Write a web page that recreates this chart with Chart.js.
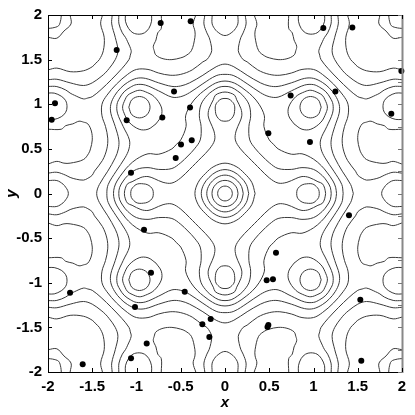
<!DOCTYPE html>
<html><head><meta charset="utf-8">
<style>html,body{margin:0;padding:0;background:#fff}#wrap{width:415px;height:415px}</style>
<script src="https://cdn.jsdelivr.net/npm/chart.js@4.4.1/dist/chart.umd.min.js"></script>
</head><body><div id="wrap"><canvas id="c" width="415" height="415"></canvas></div>
<script>
// ---- axis ticks ----
const xTicks = [-2,-1.5,-1,-0.5,0,0.5,1,1.5,2];
const xTickLabels = ['-2','-1.5','-1','-0.5','0','0.5','1','1.5','2'];
const yTicks = [-2,-1.5,-1,-0.5,0,0.5,1,1.5,2];
const yTickLabels = ['-2','-1.5','-1','-0.5','0','0.5','1','1.5','2'];
const yRightTicks = [-2,-1.75,-1.5,-1.25,-1,-0.75,-0.5,-0.25,0,0.25,0.5,0.75,1,1.25,1.5,1.75,2];

// ---- sample points ----
const sampleX = [-0.727,-0.388,-1.224,-0.576,-1.921,-1.958,-1.111,-0.708,-0.395,-0.376,-0.497,-0.557,-1.062,
  1.111,1.439,1.993,1.247,0.742,1.879,0.49,0.96,
  -0.915,-0.836,-1.751,-0.455,-1.017,-0.256,-0.177,-0.885,-1.062,-1.608,
  1.401,0.576,0.471,0.542,1.529,-0.162,0.49,0.48,1.54];
const sampleY = [1.911,1.93,1.607,1.142,1.012,0.826,0.822,0.852,0.964,0.596,0.548,0.399,0.232,
  1.855,1.859,1.372,1.142,1.097,0.893,0.674,0.577,
  -0.407,-0.889,-1.112,-1.101,-1.272,-1.465,-1.607,-1.68,-1.847,-1.914,
  -0.243,-0.663,-0.971,-0.96,-1.19,-1.406,-1.473,-1.495,-1.874];

// ---- contour lines traced in the quadrant x>=0, y>=0 (the field is mirror-symmetric) ----
const c04 = [[0.083,0],[0.0767,0.0318],[0.0587,0.0587],[0.0318,0.0767],[0,0.083]];
const c09 = [[0.147,0],[0.1356,0.0562],[0.1032,0.1032],[0.0562,0.1356],[0,0.147]];
const c14 = [[0.206,0],[0.1875,0.0777],[0.1414,0.1414],[0.0777,0.1875],[0,0.206]];
const c19 = [[0.268,0],[0.2416,0.1001],[0.1803,0.1803],[0.1001,0.2416],[0,0.268]];
const c24 = [[0.34,0],[0.3026,0.1253],[0.2227,0.2227],[0.1253,0.3026],[0,0.34]];
const c29a = [[0,0.81],[0.04,0.815],[0.075,0.84],[0.1,0.88],[0.108,0.92],[0.11,0.97],[0.1,1.005],[0.08,1.03],[0.045,1.058],[0,1.065]];
const c29b = [[0.81,0],[0.815,0.04],[0.84,0.075],[0.88,0.1],[0.92,0.108],[0.97,0.11],[1.005,0.1],[1.03,0.08],[1.058,0.045],[1.065,0]];
const c34 = [[1.137,0],[1.126,0.06],[1.1,0.11],[1.05,0.132],[0.95,0.18],[0.87,0.19],[0.8,0.167],[0.7,0.125],[0.6,0.117],[0.5,0.175],[0.4,0.27],[0.335,0.335],[0.27,0.4],[0.175,0.5],[0.117,0.6],[0.125,0.7],[0.167,0.8],[0.19,0.87],[0.18,0.95],[0.132,1.05],[0.11,1.1],[0.06,1.126],[0,1.137]];
const c39 = [[1.2,0],[1.19,0.07],[1.15,0.14],[1.1,0.2],[1.0,0.27],[0.87,0.29],[0.75,0.27],[0.6,0.28],[0.5,0.345],[0.42,0.42],[0.345,0.5],[0.28,0.6],[0.27,0.75],[0.29,0.87],[0.27,1.0],[0.2,1.1],[0.14,1.15],[0.07,1.19],[0,1.2]];
const c39r = [[1.087,0.967],[1.052,1.052],[0.967,1.087],[0.882,1.052],[0.847,0.967],[0.882,0.882],[0.967,0.847],[1.052,0.882],[1.087,0.967]];
const c44 = [[1.26,0],[1.25,0.07],[1.22,0.14],[1.15,0.24],[1.09,0.31],[1.0,0.385],[0.87,0.445],[0.75,0.44],[0.6,0.5],[0.55,0.55],[0.5,0.6],[0.44,0.75],[0.445,0.87],[0.385,1.0],[0.31,1.09],[0.24,1.15],[0.14,1.22],[0.07,1.25],[0,1.26]];
const c44r = [[0.78,0.78],[0.72,0.87],[0.72,0.97],[0.8,1.085],[0.9,1.14],[0.97,1.157],[1.05,1.13],[1.1,1.1],[1.13,1.05],[1.157,0.97],[1.14,0.9],[1.085,0.8],[0.97,0.72],[0.87,0.72],[0.78,0.78]];
const c49 = [[1.335,0],[1.32,0.1],[1.23,0.25],[1.13,0.4],[1.085,0.5],[1.08,0.6],[1.15,0.75],[1.215,0.9],[1.22,1.0],[1.19,1.07],[1.14,1.14],[1.07,1.19],[1.0,1.22],[0.9,1.215],[0.75,1.15],[0.6,1.08],[0.5,1.085],[0.4,1.13],[0.25,1.23],[0.1,1.32],[0,1.335]];
const c54 = [[1.45,0],[1.42,0.1],[1.325,0.25],[1.24,0.4],[1.205,0.5],[1.2,0.6],[1.24,0.75],[1.29,0.9],[1.29,1.0],[1.245,1.1],[1.18,1.18],[1.1,1.245],[1.0,1.29],[0.9,1.29],[0.75,1.24],[0.6,1.2],[0.5,1.205],[0.4,1.24],[0.25,1.325],[0.1,1.42],[0,1.45]];
const c54e = [[1.77,0],[1.778,0.035],[1.8,0.07],[1.83,0.105],[1.9,0.145],[2,0.145]];
const c54t = [[0,1.77],[0.035,1.778],[0.07,1.8],[0.105,1.83],[0.145,1.9],[0.145,2]];
const c59 = [[2,0.228],[1.9,0.238],[1.8,0.205],[1.75,0.18],[1.68,0.16],[1.6,0.15],[1.55,0.17],[1.5,0.205],[1.475,0.25],[1.385,0.37],[1.335,0.5],[1.325,0.62],[1.35,0.75],[1.39,0.87],[1.39,1.0],[1.335,1.1],[1.226,1.226],[1.1,1.335],[1.0,1.39],[0.87,1.39],[0.75,1.35],[0.62,1.325],[0.5,1.335],[0.37,1.385],[0.25,1.475],[0.205,1.5],[0.17,1.55],[0.15,1.6],[0.16,1.68],[0.18,1.75],[0.205,1.8],[0.238,1.9],[0.228,2]];
const c59a = [[2,0.83],[1.93,0.83],[1.85,0.86],[1.8,0.91],[1.785,0.97],[1.8,1.04],[1.85,1.09],[1.93,1.125],[2,1.125]];
const c59b = [[0.83,2],[0.83,1.93],[0.86,1.85],[0.91,1.8],[0.97,1.785],[1.04,1.8],[1.09,1.85],[1.125,1.93],[1.125,2]];
const c64a = [[0.33,2],[0.36,1.9],[0.34,1.82],[0.34,1.75],[0.38,1.6],[0.45,1.54],[0.5,1.52],[0.6,1.5],[0.7,1.51],[0.78,1.55],[0.8,1.6],[0.81,1.65],[0.78,1.72],[0.76,1.8],[0.72,1.85],[0.72,2]];
const c64b = [[2,0.33],[1.9,0.36],[1.82,0.34],[1.75,0.34],[1.6,0.38],[1.54,0.45],[1.52,0.5],[1.5,0.6],[1.51,0.7],[1.55,0.78],[1.6,0.8],[1.65,0.81],[1.72,0.78],[1.8,0.76],[1.85,0.72],[2,0.72]];
const c64c = [[2,1.2],[1.9,1.198],[1.8,1.16],[1.75,1.125],[1.7,1.1],[1.6,1.06],[1.55,1.07],[1.5,1.085],[1.4,1.165],[1.28,1.28],[1.165,1.4],[1.085,1.5],[1.07,1.55],[1.06,1.6],[1.1,1.7],[1.125,1.75],[1.16,1.8],[1.198,1.9],[1.2,2]];
const c69a = [[2,1.275],[1.9,1.28],[1.75,1.24],[1.6,1.21],[1.5,1.24],[1.4,1.31],[1.352,1.352],[1.31,1.4],[1.24,1.5],[1.21,1.6],[1.24,1.75],[1.28,1.9],[1.275,2]];
const c69b = [[2,1.85],[1.95,1.855],[1.88,1.88],[1.855,1.95],[1.85,2]];
const c74a = [[2,1.385],[1.9,1.405],[1.75,1.365],[1.6,1.375],[1.5,1.42],[1.46,1.46],[1.42,1.5],[1.375,1.6],[1.365,1.75],[1.405,1.9],[1.385,2]];
const c74b = [[2,1.75],[1.9,1.74],[1.82,1.82],[1.74,1.9],[1.75,2]];

const curveList = [
  [c04,'ring'],[c09,'ring'],[c14,'ring'],[c19,'ring'],[c24,'ring'],
  [c29a,'yhalf'],[c29b,'xhalf'],
  [c34,'ring'],[c39,'ring'],[c39r,'free'],[c44,'ring'],[c44r,'free'],
  [c49,'ring'],[c54,'ring'],[c54e,'xedge'],[c54t,'yedge'],
  [c59,'free'],[c59a,'free'],[c59b,'free'],
  [c64a,'free'],[c64b,'free'],[c64c,'free'],
  [c69a,'free'],[c69b,'free'],[c74a,'free'],[c74b,'free']
];

// mirror helpers: build the other quadrants from the traced quadrant
const mx = p => p.map(([x,y]) => [-x,y]);
const my = p => p.map(([x,y]) => [x,-y]);
const rev = p => p.slice().reverse();
function expand(p, kind){
  if(kind==='ring') return [[...p, ...rev(mx(p)).slice(1), ...mx(my(p)).slice(1), ...rev(my(p)).slice(1)]];
  if(kind==='yhalf'){ const f=[...p, ...rev(mx(p)).slice(1)]; return [f, my(f)]; }
  if(kind==='xhalf'){ const f=[...p, ...rev(my(p)).slice(1)]; return [f, mx(f)]; }
  if(kind==='yedge'){ const f=[...rev(mx(p)), ...p.slice(1)]; return [f, my(f)]; }
  if(kind==='xedge'){ const f=[...rev(my(p)), ...p.slice(1)]; return [f, mx(f)]; }
  return [p, mx(p), my(p), mx(my(p))];
}

const FONT = "'Liberation Sans Narrow', 'Liberation Sans', Arial, Helvetica, sans-serif";
const datasets = [{
  label:'samples',
  data: sampleX.map((x,i)=>({x, y:sampleY[i]})),
  showLine:false, pointRadius:3, pointHoverRadius:3,
  pointBackgroundColor:'#000', pointBorderWidth:0, order:-1, clip:false
}];
curveList.forEach(([p,kind]) => {
  expand(p,kind).forEach(path => {
    datasets.push({
      data: path.map(([x,y])=>({x,y})),
      showLine:true, pointRadius:0, borderColor:'#3a3a3a', borderWidth:1,
      tension:0.35, fill:false, order:1
    });
  });
});

const framePlugin = {
  id:'frame',
  afterDraw(chart){
    const {ctx, chartArea:a, scales:{x, y}} = chart;
    ctx.save();
    ctx.lineWidth = 1;
    ctx.strokeStyle = '#000';
    ctx.beginPath();
    ctx.moveTo(a.right, a.top+0.5); ctx.lineTo(a.left+0.5, a.top+0.5);
    ctx.lineTo(a.left+0.5, a.bottom+0.5); ctx.lineTo(a.right, a.bottom+0.5);
    ctx.stroke();
    ctx.strokeStyle = '#888'; ctx.lineWidth = 2;
    ctx.beginPath(); ctx.moveTo(a.right+0.5, a.top); ctx.lineTo(a.right+0.5, a.bottom+1); ctx.stroke();
    ctx.strokeStyle = '#000'; ctx.lineWidth = 1;
    ctx.beginPath();
    xTicks.forEach(v => {
      const px = Math.round(x.getPixelForValue(v)) + 0.5;
      ctx.moveTo(px, a.bottom); ctx.lineTo(px, a.bottom-4);
      ctx.moveTo(px, a.top); ctx.lineTo(px, a.top+4);
    });
    yTicks.forEach(v => {
      const py = Math.round(y.getPixelForValue(v)) + 0.5;
      ctx.moveTo(a.left, py); ctx.lineTo(a.left+4, py);
    });
    ctx.stroke();
    ctx.strokeStyle = '#777';
    ctx.beginPath();
    yRightTicks.forEach(v => {
      const py = Math.round(y.getPixelForValue(v)) + 0.5;
      ctx.moveTo(a.right, py); ctx.lineTo(a.right-4, py);
    });
    ctx.stroke();
    ctx.restore();
  }
};

new Chart(document.getElementById('c'), {
  type:'scatter',
  data:{datasets},
  options:{
    responsive:false, animation:false, devicePixelRatio:1,
    layout:{padding:{top:13, right:13, left:0, bottom:0}},
    plugins:{legend:{display:false}, tooltip:{enabled:false}},
    scales:{
      x:{
        type:'linear', min:-2, max:2, position:'bottom',
        afterBuildTicks: s => { s.ticks = xTicks.map(v => ({value:v})); },
        afterFit: s => { s.height = 43; },
        grid:{display:false, drawTicks:false}, border:{display:false},
        ticks:{autoSkip:false, maxRotation:0, padding:6, color:'#000',
          font:{family:FONT, size:15, weight:'bold'},
          callback: v => xTickLabels[xTicks.indexOf(v)]},
        title:{display:true, text:'x', color:'#000', padding:{top:0, bottom:3},
          font:{family:FONT, size:15, weight:'bold', style:'italic'}}
      },
      y:{
        type:'linear', min:-2, max:2, position:'left',
        afterBuildTicks: s => { s.ticks = yTicks.map(v => ({value:v})); },
        afterFit: s => { s.width = 48; },
        grid:{display:false, drawTicks:false}, border:{display:false},
        ticks:{autoSkip:false, padding:6, color:'#000',
          font:{family:FONT, size:15, weight:'bold'},
          callback: v => yTickLabels[yTicks.indexOf(v)]},
        title:{display:true, text:'y', color:'#000', padding:{top:3, bottom:3},
          font:{family:FONT, size:15, weight:'bold', style:'italic'}}
      }
    }
  },
  plugins:[framePlugin]
});
</script>
</body></html>
